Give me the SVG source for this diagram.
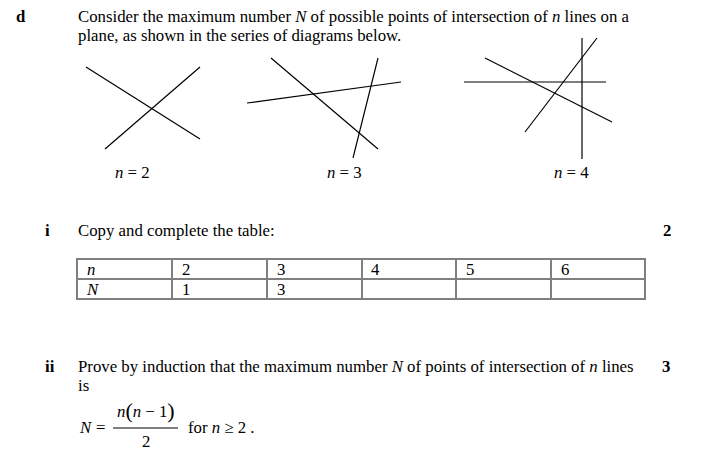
<svg xmlns="http://www.w3.org/2000/svg" width="710" height="472" viewBox="0 0 710 472">
<style>
text{font-family:"Liberation Serif","Times New Roman",serif;font-size:16.8px;fill:#000}
.b{font-weight:bold}
.i{font-style:italic}
.ln{stroke:#000;stroke-width:1.2;fill:none}
.tb{stroke:#808080;stroke-width:2;fill:none}
</style>
<rect width="710" height="472" fill="#fff"/>
<g id="question-d">
<text class="b" x="16" y="22">d</text>
<text x="78" y="22">Consider the maximum number <tspan class="i">N</tspan> of possible points of intersection of <tspan class="i">n</tspan> lines on a</text>
<text x="78" y="41">plane, as shown in the series of diagrams below.</text>
</g>
<g id="diagram-n2">
<line class="ln" x1="86" y1="67" x2="200" y2="139"/>
<line class="ln" x1="105" y1="149" x2="200" y2="67"/>
<text x="115" y="178"><tspan class="i">n</tspan> = 2</text>
</g>
<g id="diagram-n3">
<line class="ln" x1="271" y1="58" x2="378" y2="149"/>
<line class="ln" x1="247" y1="103" x2="401" y2="82"/>
<line class="ln" x1="353" y1="158" x2="378" y2="58"/>
<text x="327" y="178"><tspan class="i">n</tspan> = 3</text>
</g>
<g id="diagram-n4">
<line class="ln" x1="464" y1="82" x2="606" y2="82"/>
<line class="ln" x1="582" y1="38" x2="582" y2="159"/>
<line class="ln" x1="485" y1="58" x2="612" y2="122"/>
<line class="ln" x1="525" y1="132" x2="597" y2="38"/>
<text x="554" y="178"><tspan class="i">n</tspan> = 4</text>
</g>
<g id="part-i">
<text class="b" x="45" y="236">i</text>
<text x="78" y="236">Copy and complete the table:</text>
<text class="b" x="663" y="236">2</text>
</g>
<g id="table">
<rect class="tb" x="77" y="259" width="568" height="40"/>
<line class="tb" x1="77" y1="279" x2="645" y2="279"/>
<line class="tb" x1="172" y1="259" x2="172" y2="299"/>
<line class="tb" x1="267" y1="259" x2="267" y2="299"/>
<line class="tb" x1="362" y1="259" x2="362" y2="299"/>
<line class="tb" x1="456" y1="259" x2="456" y2="299"/>
<line class="tb" x1="551" y1="259" x2="551" y2="299"/>
<text class="i" x="87" y="275">n</text>
<text x="182" y="275">2</text>
<text x="277" y="275">3</text>
<text x="371" y="275">4</text>
<text x="466" y="275">5</text>
<text x="561" y="275">6</text>
<text class="i" x="87" y="295">N</text>
<text x="182" y="295">1</text>
<text x="277" y="295">3</text>
</g>
<g id="part-ii">
<text class="b" x="45" y="372">ii</text>
<text x="78" y="372">Prove by induction that the maximum number <tspan class="i">N</tspan> of points of intersection of <tspan class="i">n</tspan> lines</text>
<text class="b" x="662" y="372">3</text>
<text x="78" y="391">is</text>
</g>
<g id="formula">
<text class="i" x="80" y="433" font-size="18">N</text>
<text x="96" y="433" font-size="18">=</text>
<line x1="113" y1="428" x2="178" y2="428" stroke="#000" stroke-width="1"/>
<text x="117" y="417" font-size="18"><tspan class="i">n</tspan><tspan font-size="22" dy="1">(</tspan><tspan class="i" dy="-1">n</tspan> − 1<tspan font-size="22" dy="1">)</tspan></text>
<text x="142" y="447" font-size="18">2</text>
<text x="188" y="433">for <tspan class="i">n</tspan> ≥ 2 .</text>
</g>
</svg>
